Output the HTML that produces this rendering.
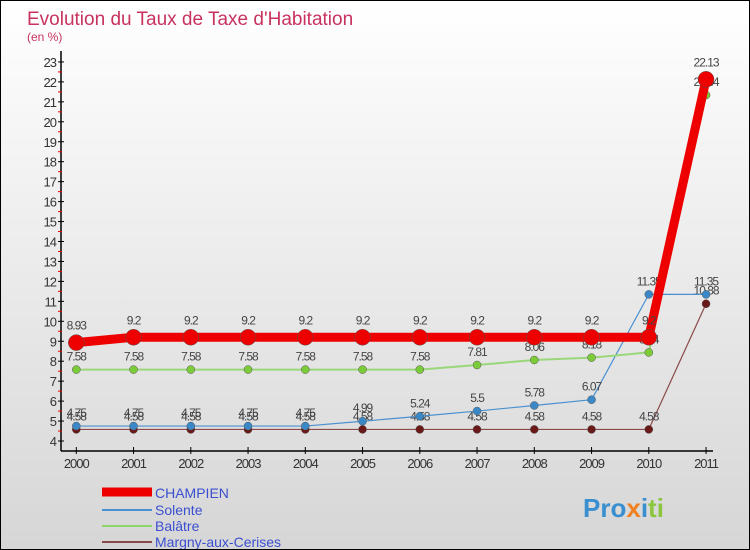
<!DOCTYPE html>
<html><head><meta charset="utf-8"><style>
body{margin:0}
#c{width:748px;height:548px;border:1px solid #000;background:linear-gradient(#fff,#d6d6d6);position:relative;overflow:hidden;font-family:"Liberation Sans",sans-serif}
</style></head><body>
<div id="c">
<svg id="s" width="748" height="548" xmlns="http://www.w3.org/2000/svg">
<text x="26" y="24" font-size="19" fill="#c8325e">Evolution du Taux de Taxe d'Habitation</text>
<text x="26" y="40" font-size="12" fill="#c8325e">(en %)</text>
<g id="axes"></g><g id="series"></g>
<g>
<line x1="101" y1="491" x2="151" y2="491" stroke="#e00" stroke-width="9"/>
<text x="154" y="497" font-size="14" fill="#3a4fd0">CHAMPIEN</text>
<line x1="101" y1="509" x2="151" y2="509" stroke="#4a90d0" stroke-width="2"/>
<text x="154" y="514" font-size="14" fill="#3a4fd0">Solente</text>
<line x1="101" y1="525" x2="151" y2="525" stroke="#8ed36a" stroke-width="2"/>
<text x="154" y="530" font-size="14" fill="#3a4fd0">Balâtre</text>
<line x1="101" y1="541" x2="151" y2="541" stroke="#8b4a4a" stroke-width="2"/>
<text x="154" y="546" font-size="14" fill="#3a4fd0">Margny-aux-Cerises</text>
</g>
<text x="582" y="516" font-size="26" font-weight="bold" fill="#3a8fd0">Pro<tspan fill="#f08020">x</tspan><tspan fill="#3a8fd0">i</tspan><tspan fill="#8cc63e">ti</tspan></text>
</svg>
</div>
<script>
const years=["2000","2001","2002","2003","2004","2005","2006","2007","2008","2009","2010","2011"];
const champien=[8.93,9.2,9.2,9.2,9.2,9.2,9.2,9.2,9.2,9.2,9.2,22.13];
const solente=[4.75,4.75,4.75,4.75,4.75,4.99,5.24,5.5,5.78,6.07,11.35,11.35];
const balatre=[7.58,7.58,7.58,7.58,7.58,7.58,7.58,7.81,8.06,8.18,8.44,21.34];
const margny=[4.58,4.58,4.58,4.58,4.58,4.58,4.58,4.58,4.58,4.58,4.58,10.88];
const yTicks=[4,5,6,7,8,9,10,11,12,13,14,15,16,17,18,19,20,21,22,23];
const NS="http://www.w3.org/2000/svg";
const X=i=>75.3+i*57.25, Y=v=>440-(v-4)*19.95;
function mk(t,a,p){const e=document.createElementNS(NS,t);for(const k in a)e.setAttribute(k,a[k]);p.appendChild(e);return e;}
const ax=document.getElementById('axes'), sg=document.getElementById('series');
let e=mk('line',{x1:60,y1:50,x2:60,y2:450,stroke:'#000','stroke-width':1.5},ax);

e=mk('line',{x1:60,y1:450,x2:712,y2:450,stroke:'#000','stroke-width':1.5},ax);

yTicks.forEach(v=>{
 mk('line',{x1:57,y1:Y(v),x2:63,y2:Y(v),stroke:'#000'},ax);
 if(v<23){const m=mk('line',{x1:57,y1:Y(v+0.5),x2:61,y2:Y(v+0.5),stroke:'#e00'},ax);}
 const t=mk('text',{x:55,y:Y(v)+5,'font-size':13,fill:'#333','text-anchor':'end','letter-spacing':'-1'},ax);
 t.textContent=v;
 
});
years.forEach((y,i)=>{
 mk('line',{x1:X(i),y1:446,x2:X(i),y2:453,stroke:'#000'},ax);
 const t=mk('text',{x:X(i),y:467,'font-size':13,fill:'#333','text-anchor':'middle','letter-spacing':'-1'},ax);
 t.textContent=y;
 
});
function series(d,name,color,w,r,fill){
 const g=mk('g',{},sg);
 
 const l=mk('polyline',{points:d.map((v,i)=>X(i)+','+Y(v)).join(' '),fill:'none',stroke:color,'stroke-width':w,'stroke-linejoin':'round'},g);
 
 d.forEach((v,i)=>{
  const c=mk('circle',{cx:X(i),cy:Y(v),r:r,fill:fill,stroke:'#555','stroke-width':0.5},g);
  
  const t=mk('text',{x:X(i),y:Y(v)-9-(r>5?4:0),'font-size':12,fill:'#444','text-anchor':'middle','letter-spacing':'-1'},g);
  t.textContent=v;
  
 });
}
series(margny,'margny','#8b4a4a',1.2,4,'#6b1818');
series(solente,'solente','#4a90d0',1.2,4,'#3a88c8');
series(balatre,'balatre','#9ad77a',2,4,'#7ccc3a');
series(champien,'champien','#e00',9,8,'#e00');
</script>
</body></html>
